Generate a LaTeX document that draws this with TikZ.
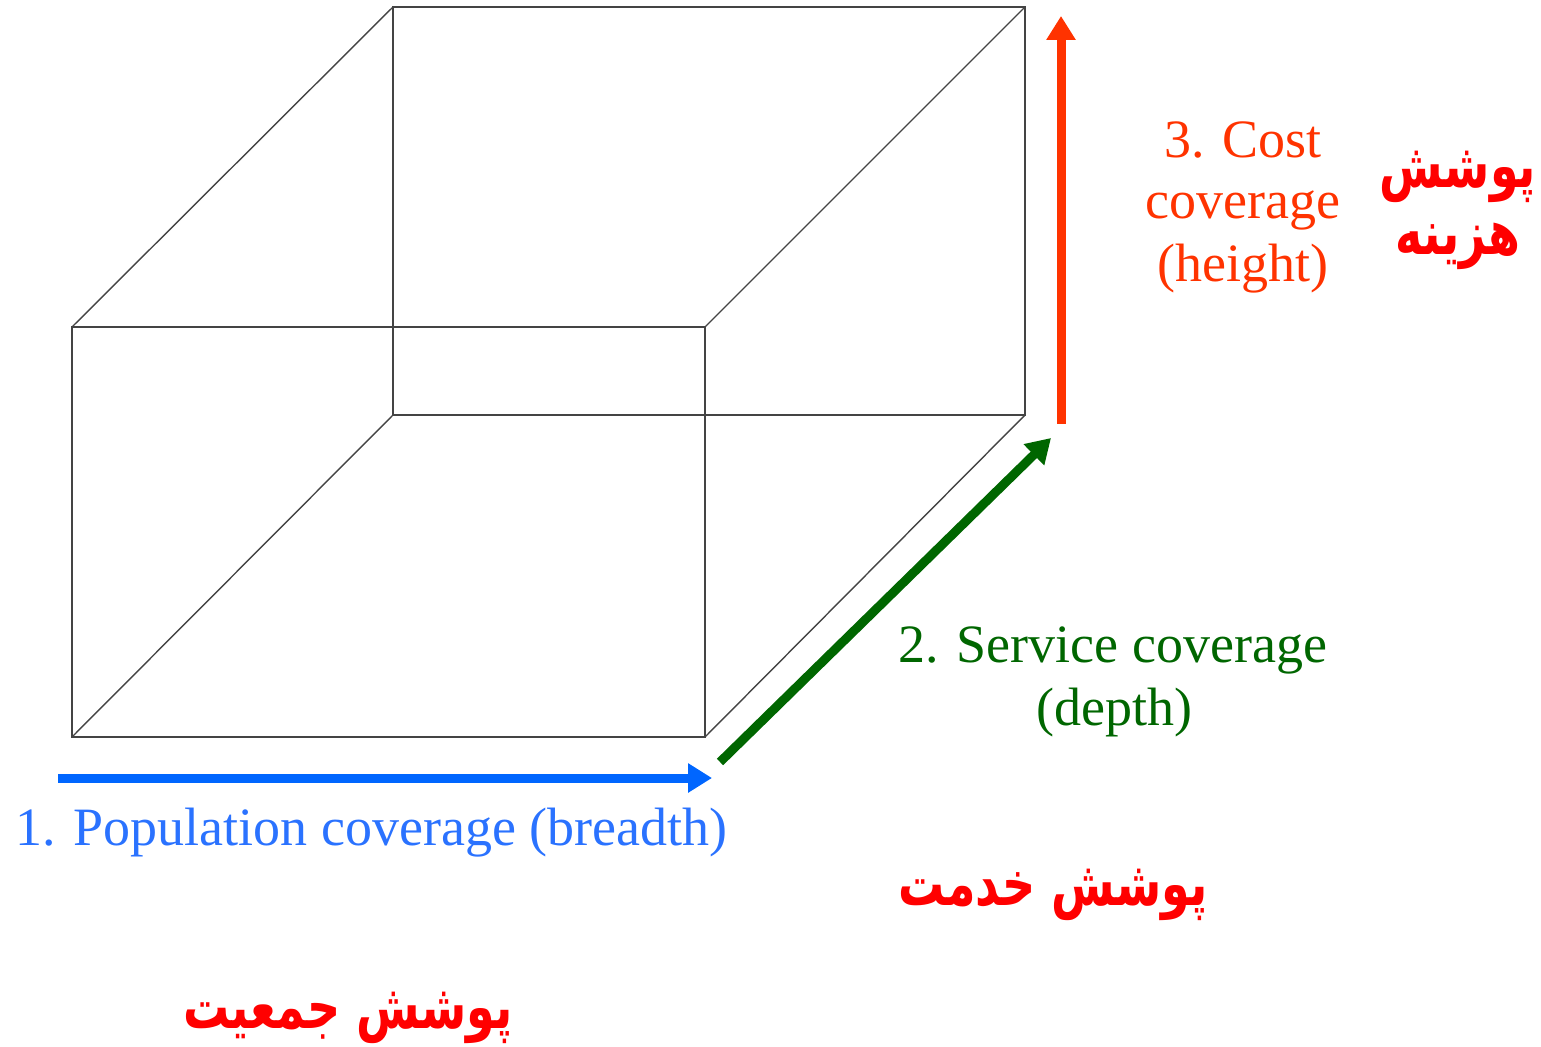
\documentclass[tikz,border=0pt]{standalone}
\usepackage{fontspec}
\setmainfont{Liberation Serif}
\newfontfamily\arabicfont[Script=Arabic]{DejaVu Sans}
\TeXXeTstate=1
\usetikzlibrary{arrows.meta}
\definecolor{cubeline}{HTML}{444444}
\definecolor{popblue}{HTML}{0066FF}
\definecolor{popbluetext}{HTML}{2A72FF}
\definecolor{servgreen}{HTML}{006600}
\definecolor{costred}{HTML}{FF3300}
\definecolor{farsired}{HTML}{FF0000}
\newcommand{\fatall}[1]{\scalebox{1}[1.35]{\arabicfont\bfseries\beginR #1\endR}}
\tikzset{
  cube/.style={draw=cubeline, line width=0.7pt},
  axisarrow/.style={line width=4.5pt, -{Triangle[length=12pt,width=14pt]}},
  entext/.style={font=\fontsize{27}{31}\selectfont, inner sep=0pt},
  fatext/.style={font=\fontsize{23}{28}\selectfont, text=farsired, inner sep=0pt},
}
\begin{document}
\begin{tikzpicture}[x=0.5pt, y=-0.5pt]
\useasboundingbox (0,0) rectangle (1541,1047);
% cube corners
\coordinate (ftl) at (72,327);
\coordinate (ftr) at (705,327);
\coordinate (fbl) at (72,737);
\coordinate (fbr) at (705,737);
\coordinate (btl) at (393,7);
\coordinate (btr) at (1025,7);
\coordinate (bbl) at (393,415);
\coordinate (bbr) at (1025,415);
\draw[cube] (ftl) -- (ftr) -- (fbr) -- (fbl) -- cycle;
\draw[cube] (btl) -- (btr) -- (bbr) -- (bbl) -- cycle;
\draw[cube] (ftl) -- (btl);
\draw[cube] (ftr) -- (btr);
\draw[cube] (fbl) -- (bbl);
\draw[cube] (fbr) -- (bbr);
% arrows
\coordinate (popS) at (58,778);
\coordinate (popE) at (712,778);
\coordinate (servS) at (720,762);
\coordinate (servE) at (1051,438);
\coordinate (costS) at (1061,424);
\coordinate (costE) at (1061,16);
\draw[axisarrow, popblue] (popS) -- (popE);
\draw[axisarrow, servgreen] (servS) -- (servE);
\draw[axisarrow, costred] (costS) -- (costE);
% English labels
\node[entext, text=popbluetext, anchor=base west] (poplabel) at (15,845) {1. Population coverage (breadth)};
\node[entext, text=servgreen, anchor=base west] (servlabel1) at (898,662) {2. Service coverage};
\node[entext, text=servgreen, anchor=base] (servlabel2) at (1114,725) {(depth)};
\node[entext, text=costred, anchor=base] (costlabel1) at (1243,158) {3. Cost};
\node[entext, text=costred, anchor=base] (costlabel2) at (1243,219) {coverage};
\node[entext, text=costred, anchor=base] (costlabel3) at (1243,282) {(height)};
% Persian labels
\node[fatext, anchor=base] (facost1) at (1458,188) {\fatall{پوشش}};
\node[fatext, anchor=base] (facost2) at (1458,255) {\fatall{هزینه}};
\node[fatext, anchor=base] (faserv) at (1053,905) {\fatall{پوشش خدمت}};
\node[fatext, anchor=base] (fapop) at (348,1028) {\fatall{پوشش جمعیت}};
\end{tikzpicture}
\end{document}
